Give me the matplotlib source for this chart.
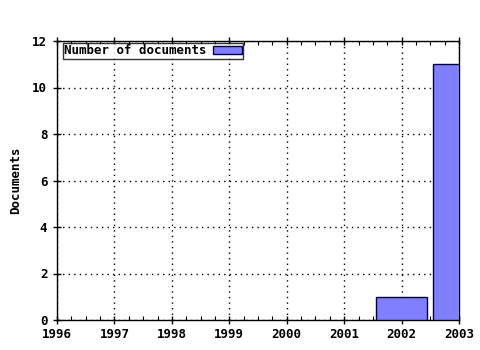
import matplotlib
matplotlib.use("Agg")
import matplotlib.pyplot as plt
from matplotlib.ticker import MultipleLocator

years = [2002, 2003]
documents = [1, 11]
series_label = "Number of documents"
y_label = "Documents"
x_ticks = [1996, 1997, 1998, 1999, 2000, 2001, 2002, 2003]
y_ticks = [0, 2, 4, 6, 8, 10, 12]

plt.rcParams['font.family'] = ['DejaVu Sans Mono']
plt.rcParams['font.weight'] = 'bold'

fig = plt.figure(figsize=(4.8, 3.5), dpi=100)
ax = fig.add_axes([57/480, 1-320/350, (459-57)/480, (320-41)/350])

ax.bar(years, documents, width=0.9, color="#8080ff", edgecolor="#000040",
       linewidth=1, label=series_label, zorder=3)

ax.set_xlim(1996, 2003)
ax.set_ylim(0, 12)
ax.set_xticks(x_ticks)
ax.set_xticklabels([str(x) for x in x_ticks], fontsize=9, fontweight='bold')
ax.set_yticks(y_ticks)
ax.set_yticklabels([str(y) for y in y_ticks], fontsize=9, fontweight='bold')
ax.xaxis.set_minor_locator(MultipleLocator(0.25))
ax.yaxis.set_minor_locator(MultipleLocator(0.5))
ax.tick_params(axis='x', which='major', direction='inout', length=6, width=1,
               top=True, pad=3)
ax.tick_params(axis='x', which='minor', direction='in', length=3, width=0.8, top=True)
ax.tick_params(axis='y', which='major', direction='inout', length=6, width=1, pad=4)
ax.tick_params(axis='y', which='minor', length=0)
ax.grid(True, which='major', linestyle=(0, (1, 3)), color='black', linewidth=1, zorder=0)
for s in ax.spines.values():
    s.set_linewidth(1)
ax.set_ylabel(y_label, fontsize=9, fontweight='bold', labelpad=7)

leg = ax.legend(loc='upper left', bbox_to_anchor=(6/402, 1-2/279), markerfirst=False,
                fontsize=9, frameon=True, fancybox=False, borderpad=0.1,
                handlelength=2.3, handleheight=0.55, borderaxespad=0.0,
                handletextpad=0.5)
leg.get_frame().set_edgecolor('black')
leg.get_frame().set_linewidth(1)

fig.savefig("out.png", dpi=100)
